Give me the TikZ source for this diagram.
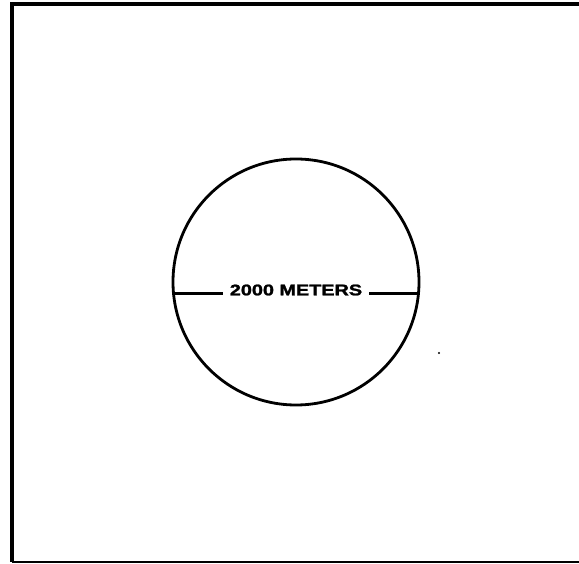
\documentclass[tikz,border=0pt]{standalone}
\usepackage{fontspec}
\newfontfamily\labelfont[BoldFeatures={FakeBold=1.5}]{Liberation Sans}
\usetikzlibrary{positioning}

\begin{document}
\begin{tikzpicture}[
  x=1pt, y=-1pt,
  frame/.style={line width=3.6pt},
  ring/.style={draw, circle, line width=2.8pt, minimum size=246pt, inner sep=0pt},
  span/.style={line width=2.4pt},
  lbl/.style={font=\labelfont\bfseries\fontsize{15.5}{16}\selectfont, inner sep=0pt, minimum width=146pt},
]
\useasboundingbox (0,0) rectangle (579,564);

% frame, right side runs off the page
\coordinate (tr) at (579,4);
\coordinate (tl) at (12,4);
\coordinate (bl) at (12,562);
\coordinate (br) at (579,562);
\draw[frame] (tr) -- (tl) -- (bl);
\draw[line width=2.4pt] (bl) -- (br);

% the site circle
\node[ring] (site) at (296,282) {};

% diameter with its label
\node[lbl] (dist) at (296,290) {\scalebox{1.28}[1]{2000 METERS}};
\coordinate (mid) at (296,293.5);
\draw[span] (site.west |- mid) -- (dist.west |- mid);
\draw[span] (dist.east |- mid) -- (site.east |- mid);

% speck
\fill (439,353) circle (1.2pt);
\end{tikzpicture}
\end{document}
